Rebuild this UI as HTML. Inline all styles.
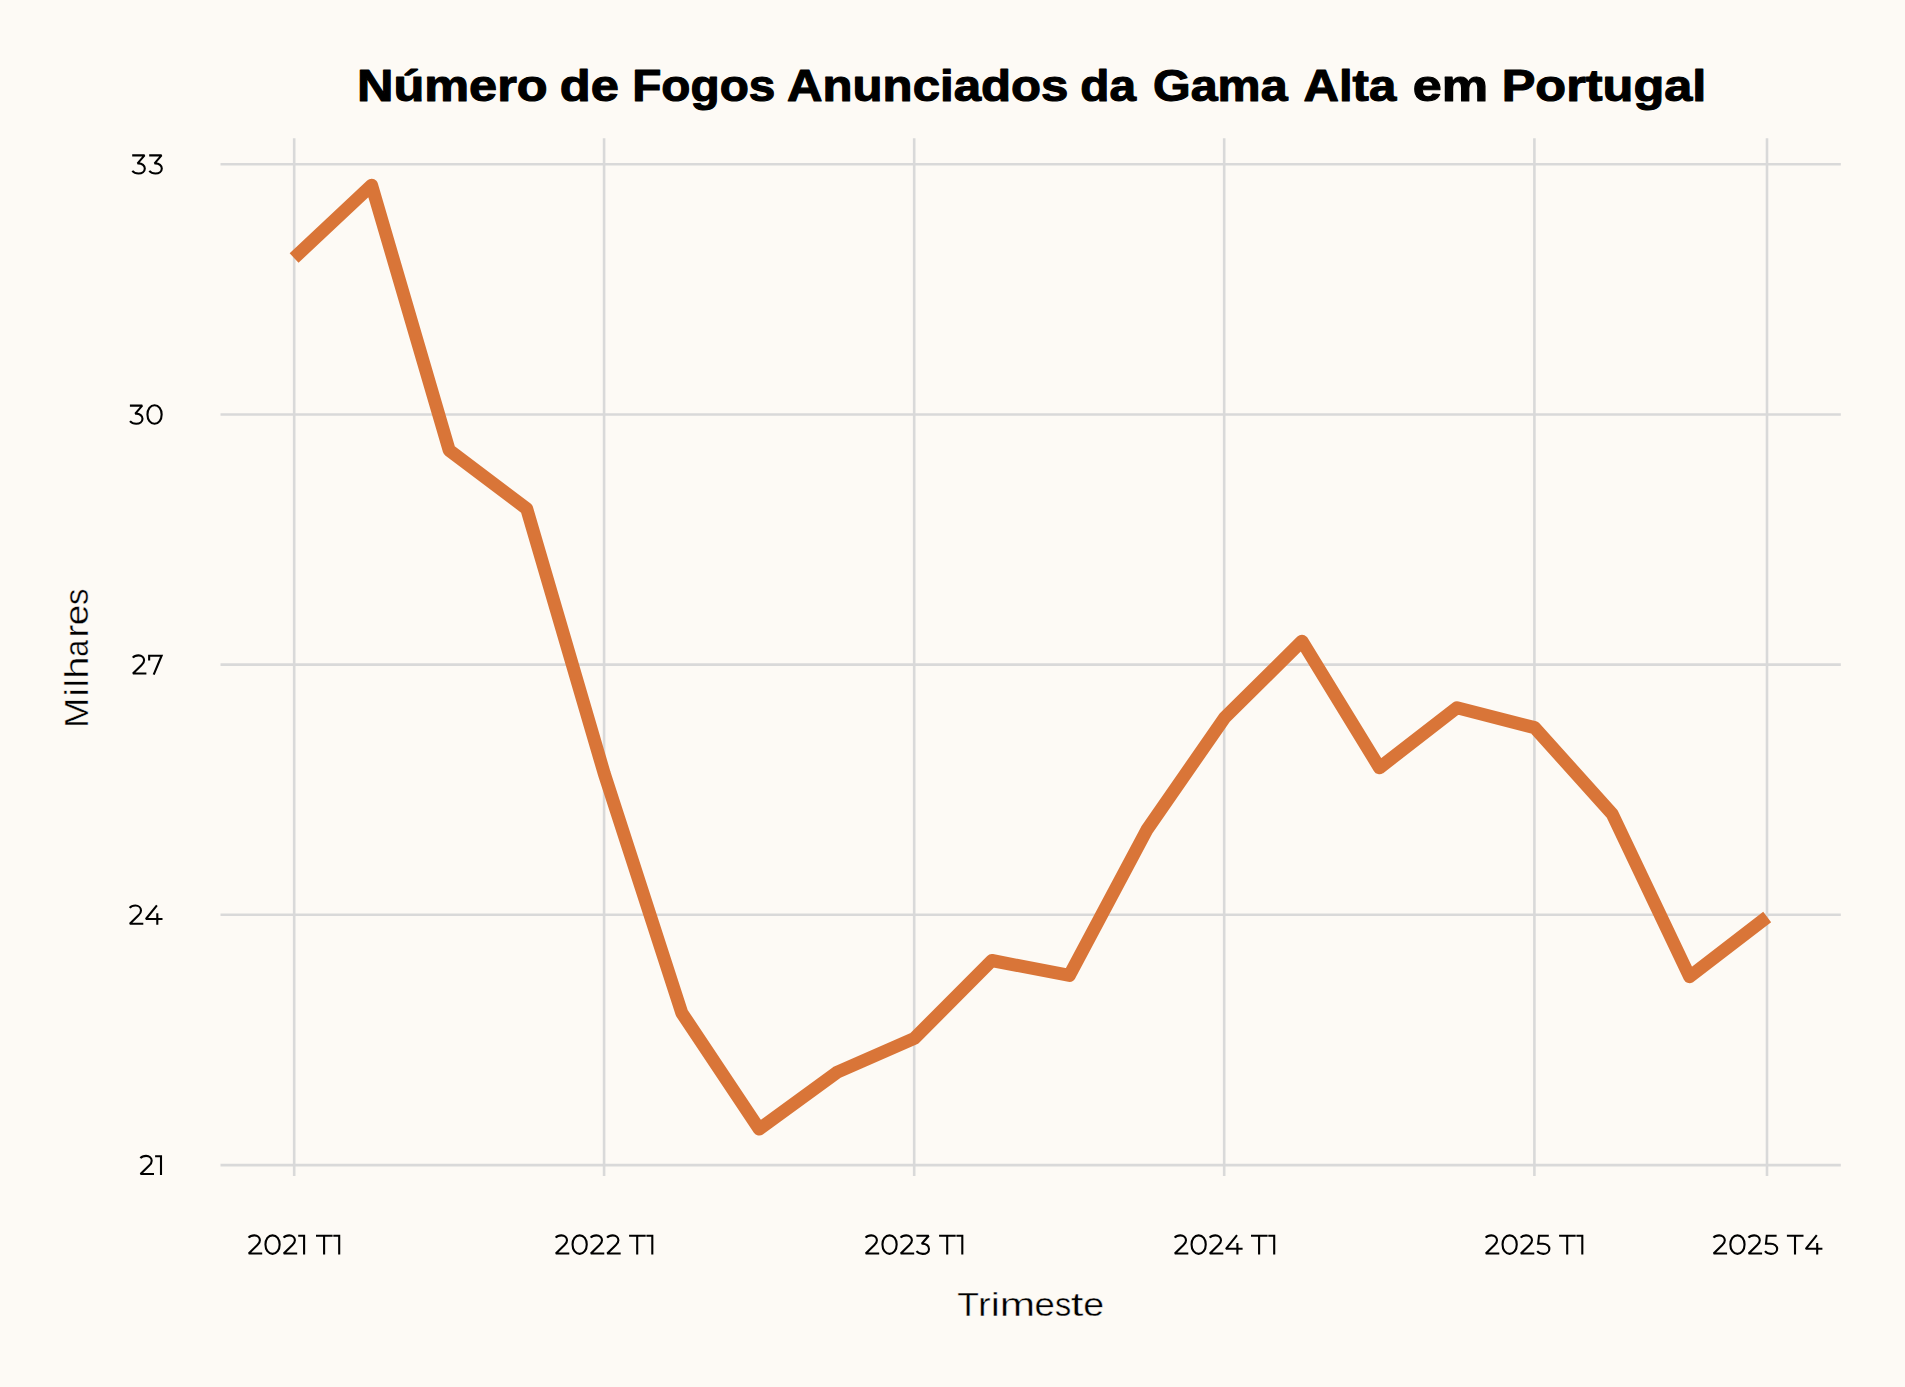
<!DOCTYPE html>
<html><head><meta charset="utf-8"><style>
html,body{margin:0;padding:0;background:#fdfaf5;}
body{width:1905px;height:1387px;overflow:hidden;}
svg{display:block;font-family:"Liberation Sans",sans-serif;fill:#000;}
</style></head><body>
<svg width="1905" height="1387" viewBox="0 0 1905 1387">
<defs>
<path id="g0" d="M8.15,1.0500000000000007C12.27,1.0500000000000007 15.25,4.94 15.25,10.3C15.25,15.66 12.27,19.55 8.15,19.55C4.03,19.55 1.0500000000000007,15.66 1.0500000000000007,10.3C1.0500000000000007,4.94 4.03,1.0500000000000007 8.15,1.0500000000000007Z"/>
<path id="g1" d="M0,1.45H5.9V20.3"/>
<path id="g2" d="M0.9,3.4C2.1,1.9 4.1,1.05 6.6,1.05C9.8,1.05 12.2,3.1 12.2,5.9C12.2,7.8 11.3,9.3 9.7,10.7L1.05,19.25H14.5"/>
<path id="g3" d="M0.9,1.45H13.2L6.3,9.4H7.2C10.8,9.4 13.5,11.6 13.5,14.6C13.5,17.7 10.8,19.55 7.2,19.55C4.6,19.55 2.4,18.6 1.0,16.9"/>
<path id="g4" d="M12.0,0.9L1.0,14.5H17.6M12.4,8.8V20.3"/>
<path id="g5" d="M12.6,1.45H2.8L2.0,9.5H6.8C10.4,9.5 13.15,11.8 13.15,14.6C13.15,17.6 10.5,19.55 7.0,19.55C4.5,19.55 2.3,18.6 1.0,16.9"/>
<path id="g7" d="M1.05,6.1V1.45H13.5L5.6,20.3"/>
<path id="gT" d="M0,1.45H16.6M8.1,1.45V20.3"/>
</defs>
<rect width="1905" height="1387" fill="#fdfaf5"/>
<line x1="220.5" y1="164.25" x2="1840.8" y2="164.25" stroke="#d9d9d9" stroke-width="2.6"/>
<line x1="220.5" y1="414.5" x2="1840.8" y2="414.5" stroke="#d9d9d9" stroke-width="2.6"/>
<line x1="220.5" y1="664.6" x2="1840.8" y2="664.6" stroke="#d9d9d9" stroke-width="2.6"/>
<line x1="220.5" y1="914.8" x2="1840.8" y2="914.8" stroke="#d9d9d9" stroke-width="2.6"/>
<line x1="220.5" y1="1165.1" x2="1840.8" y2="1165.1" stroke="#d9d9d9" stroke-width="2.6"/>
<line x1="294.2" y1="138.3" x2="294.2" y2="1176" stroke="#d9d9d9" stroke-width="2.6"/>
<line x1="604.1" y1="138.3" x2="604.1" y2="1176" stroke="#d9d9d9" stroke-width="2.6"/>
<line x1="914.2" y1="138.3" x2="914.2" y2="1176" stroke="#d9d9d9" stroke-width="2.6"/>
<line x1="1224.2" y1="138.3" x2="1224.2" y2="1176" stroke="#d9d9d9" stroke-width="2.6"/>
<line x1="1534.4" y1="138.3" x2="1534.4" y2="1176" stroke="#d9d9d9" stroke-width="2.6"/>
<line x1="1767.0" y1="138.3" x2="1767.0" y2="1176" stroke="#d9d9d9" stroke-width="2.6"/>
<polyline points="294.10,258.00 371.63,185.30 449.16,450.20 526.69,508.70 604.22,773.50 681.75,1012.80 759.28,1129.10 836.81,1072.40 914.34,1038.40 991.87,960.50 1069.40,975.40 1146.93,829.70 1224.46,717.95 1301.99,641.20 1379.52,767.75 1457.05,707.70 1534.58,727.65 1612.11,813.80 1689.64,976.70 1767.17,917.00" fill="none" stroke="#d97538" stroke-width="13" stroke-linejoin="round" stroke-linecap="butt"/>
<text x="957.2" y="1316.2" font-size="33.6" stroke="#fdfaf5" stroke-width="0.4" textLength="21.71" lengthAdjust="spacingAndGlyphs">T</text>
<text x="978.08" y="1316.2" font-size="33.6" stroke="#fdfaf5" stroke-width="0.4" textLength="12.65" lengthAdjust="spacingAndGlyphs">r</text>
<text x="990.86" y="1316.2" font-size="33.6" stroke="#fdfaf5" stroke-width="0.4" textLength="9.1" lengthAdjust="spacingAndGlyphs">i</text>
<text x="999.88" y="1316.2" font-size="33.6" stroke="#fdfaf5" stroke-width="0.4" textLength="35.43" lengthAdjust="spacingAndGlyphs">m</text>
<text x="1034.54" y="1316.2" font-size="33.6" stroke="#fdfaf5" stroke-width="0.4" textLength="20.39" lengthAdjust="spacingAndGlyphs">e</text>
<text x="1055.1" y="1316.2" font-size="33.6" stroke="#fdfaf5" stroke-width="0.4" textLength="16.17" lengthAdjust="spacingAndGlyphs">s</text>
<text x="1070.71" y="1316.2" font-size="33.6" stroke="#fdfaf5" stroke-width="0.4" textLength="12.73" lengthAdjust="spacingAndGlyphs">t</text>
<text x="1083.21" y="1316.2" font-size="33.6" stroke="#fdfaf5" stroke-width="0.4" textLength="20.86" lengthAdjust="spacingAndGlyphs">e</text>
<g transform="translate(88.2,0) rotate(-90)"><text x="-727.97" y="0" font-size="33.6" stroke="#fdfaf5" stroke-width="0.4" textLength="30.14" lengthAdjust="spacingAndGlyphs">M</text><text x="-696.61" y="0" font-size="33.6" stroke="#fdfaf5" stroke-width="0.4" textLength="8.34" lengthAdjust="spacingAndGlyphs">i</text><text x="-687.28" y="0" font-size="33.6" stroke="#fdfaf5" stroke-width="0.4" textLength="7.84" lengthAdjust="spacingAndGlyphs">l</text><text x="-678.78" y="0" font-size="33.6" stroke="#fdfaf5" stroke-width="0.4" textLength="22.28" lengthAdjust="spacingAndGlyphs">h</text><text x="-656.78" y="0" font-size="33.6" stroke="#fdfaf5" stroke-width="0.4" textLength="16.78" lengthAdjust="spacingAndGlyphs">a</text><text x="-637.5" y="0" font-size="33.6" stroke="#fdfaf5" stroke-width="0.4" textLength="12.52" lengthAdjust="spacingAndGlyphs">r</text><text x="-625.18" y="0" font-size="33.6" stroke="#fdfaf5" stroke-width="0.4" textLength="20.62" lengthAdjust="spacingAndGlyphs">e</text><text x="-605.02" y="0" font-size="33.6" stroke="#fdfaf5" stroke-width="0.4" textLength="16.51" lengthAdjust="spacingAndGlyphs">s</text></g>
<text x="452.30" y="100.60" text-anchor="middle" font-size="44.80" font-weight="bold" stroke="#000" stroke-width="1.1" stroke-linejoin="round" textLength="190.68" lengthAdjust="spacingAndGlyphs">Número</text>
<text x="589.40" y="100.60" text-anchor="middle" font-size="44.80" font-weight="bold" stroke="#000" stroke-width="1.1" stroke-linejoin="round" textLength="59.08" lengthAdjust="spacingAndGlyphs">de</text>
<text x="703.79" y="100.60" text-anchor="middle" font-size="44.80" font-weight="bold" stroke="#000" stroke-width="1.1" stroke-linejoin="round" textLength="143.22" lengthAdjust="spacingAndGlyphs">Fogos</text>
<text x="927.72" y="100.60" text-anchor="middle" font-size="44.80" font-weight="bold" stroke="#000" stroke-width="1.1" stroke-linejoin="round" textLength="281.36" lengthAdjust="spacingAndGlyphs">Anunciados</text>
<text x="1108.22" y="100.60" text-anchor="middle" font-size="44.80" font-weight="bold" stroke="#000" stroke-width="1.1" stroke-linejoin="round" textLength="55.72" lengthAdjust="spacingAndGlyphs">da</text>
<text x="1220.32" y="100.60" text-anchor="middle" font-size="44.80" font-weight="bold" stroke="#000" stroke-width="1.1" stroke-linejoin="round" textLength="134.48" lengthAdjust="spacingAndGlyphs">Gama</text>
<text x="1349.92" y="100.60" text-anchor="middle" font-size="44.80" font-weight="bold" stroke="#000" stroke-width="1.1" stroke-linejoin="round" textLength="92.76" lengthAdjust="spacingAndGlyphs">Alta</text>
<text x="1450.57" y="100.60" text-anchor="middle" font-size="44.80" font-weight="bold" stroke="#000" stroke-width="1.1" stroke-linejoin="round" textLength="75.46" lengthAdjust="spacingAndGlyphs">em</text>
<text x="1603.99" y="100.60" text-anchor="middle" font-size="44.80" font-weight="bold" stroke="#000" stroke-width="1.1" stroke-linejoin="round" textLength="204.62" lengthAdjust="spacingAndGlyphs">Portugal</text>
<g fill="none" stroke="#000" stroke-width="2.1" stroke-linejoin="miter" stroke-miterlimit="2.2"><use href="#g2" x="247.70" y="1234.30"/>
<use href="#g0" x="264.40" y="1234.30"/>
<use href="#g2" x="282.70" y="1234.30"/>
<use href="#g1" x="298.20" y="1234.30"/>
<use href="#g2" x="554.80" y="1234.30"/>
<use href="#g0" x="571.50" y="1234.30"/>
<use href="#g2" x="589.80" y="1234.30"/>
<use href="#g2" x="606.20" y="1234.30"/>
<use href="#g2" x="864.70" y="1234.30"/>
<use href="#g0" x="881.40" y="1234.30"/>
<use href="#g2" x="899.70" y="1234.30"/>
<use href="#g3" x="915.50" y="1234.30"/>
<use href="#g2" x="1173.80" y="1234.30"/>
<use href="#g0" x="1190.50" y="1234.30"/>
<use href="#g2" x="1208.80" y="1234.30"/>
<use href="#g4" x="1225.00" y="1234.30"/>
<use href="#g2" x="1484.80" y="1234.30"/>
<use href="#g0" x="1501.50" y="1234.30"/>
<use href="#g2" x="1519.80" y="1234.30"/>
<use href="#g5" x="1536.20" y="1234.30"/>
<use href="#g2" x="1712.60" y="1234.30"/>
<use href="#g0" x="1729.30" y="1234.30"/>
<use href="#g2" x="1747.60" y="1234.30"/>
<use href="#g5" x="1764.00" y="1234.30"/>
<use href="#gT" x="316.00" y="1234.30"/>
<use href="#g1" x="333.30" y="1234.30"/>
<use href="#gT" x="629.10" y="1234.30"/>
<use href="#g1" x="646.40" y="1234.30"/>
<use href="#gT" x="939.10" y="1234.30"/>
<use href="#g1" x="956.40" y="1234.30"/>
<use href="#gT" x="1251.00" y="1234.30"/>
<use href="#g1" x="1268.30" y="1234.30"/>
<use href="#gT" x="1559.10" y="1234.30"/>
<use href="#g1" x="1576.40" y="1234.30"/>
<use href="#gT" x="1786.90" y="1234.30"/>
<use href="#g4" x="1804.80" y="1234.30"/>
<use href="#g3" x="131.30" y="153.95"/>
<use href="#g3" x="148.30" y="153.95"/>
<use href="#g3" x="129.00" y="404.20"/>
<use href="#g0" x="146.40" y="404.20"/>
<use href="#g2" x="131.90" y="654.30"/>
<use href="#g7" x="148.10" y="654.30"/>
<use href="#g2" x="128.80" y="904.50"/>
<use href="#g4" x="144.90" y="904.50"/>
<use href="#g2" x="139.50" y="1154.80"/>
<use href="#g1" x="155.10" y="1154.80"/></g>
</svg>
</body></html>
